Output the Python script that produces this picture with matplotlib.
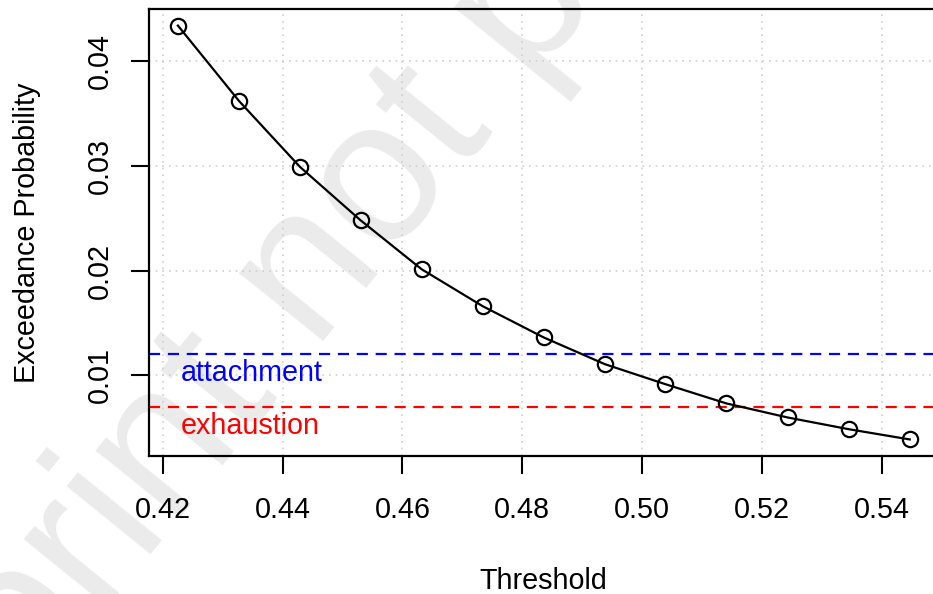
import matplotlib
matplotlib.use("Agg")
import matplotlib.pyplot as plt

plt.rcParams['font.family'] = ['Liberation Sans', 'DejaVu Sans']

threshold = [0.4225, 0.4327, 0.4429, 0.4530, 0.4632, 0.4734, 0.4836,
             0.4938, 0.5039, 0.5141, 0.5243, 0.5345, 0.5447]
exceed_prob = [0.04341, 0.03621, 0.02990, 0.02481, 0.02013, 0.01660, 0.01361,
               0.01106, 0.00915, 0.00731, 0.00597, 0.00485, 0.00387]
attachment = 0.012
exhaustion = 0.007
xticks = [0.42, 0.44, 0.46, 0.48, 0.50, 0.52, 0.54]
yticks = [0.01, 0.02, 0.03, 0.04]

W, H = 933, 594
fig = plt.figure(figsize=(W / 100, H / 100), dpi=100)

# axes placement in pixels
left_px, right_px, top_px, bottom_px = 148.6, 939, 9, 456
ax = fig.add_axes([left_px / W, 1 - bottom_px / H,
                   (right_px - left_px) / W, (bottom_px - top_px) / H])
ax.patch.set_visible(False)

# watermark
fig.text(-158.6 / W, 1 - 936.2 / H, "preprint not peer reviewed", color='#ebebeb',
         fontsize=147.6, rotation=51, rotation_mode='anchor',
         ha='left', va='baseline', zorder=-5)

fs = 20.7
xr = max(threshold) - min(threshold)
yr = max(exceed_prob) - min(exceed_prob)
ax.set_xlim(min(threshold) - 0.04 * xr, max(threshold) + 0.04 * xr)
ax.set_ylim(min(exceed_prob) - 0.04 * yr, max(exceed_prob) + 0.04 * yr)

for xv in xticks:
    ax.axvline(xv, color='#d0d0d0', lw=1.2, ls=(0, (1, 3)), zorder=1)
for yv in yticks:
    ax.axhline(yv, color='#d0d0d0', lw=1.2, ls=(0, (1, 3)), zorder=1)

ax.axhline(attachment, color='#0000ff', lw=1.6, ls=(0, (5, 3.5)), zorder=2)
ax.axhline(exhaustion, color='#ff0000', lw=1.6, ls=(0, (5, 3.5)), zorder=2)

ax.plot(threshold, exceed_prob, color='black', lw=1.6, marker='o',
        ms=11, mfc='none', mec='black', mew=1.6, zorder=3)

ax.annotate("attachment", xy=(0.423, attachment), xytext=(0, -3.5),
            textcoords='offset points', ha='left', va='top',
            color='#0000ff', fontsize=fs)
ax.annotate("exhaustion", xy=(0.423, exhaustion), xytext=(0, -3.5),
            textcoords='offset points', ha='left', va='top',
            color='#ff0000', fontsize=fs)

ax.set_xticks(xticks)
ax.set_xticklabels([f"{v:.2f}" for v in xticks])
ax.set_yticks(yticks)
ax.set_yticklabels([f"{v:.2f}" for v in yticks], rotation=90, va='center')

ax.tick_params(axis='x', direction='out', length=13, width=1.5, pad=16,
               labelsize=fs)
ax.tick_params(axis='y', direction='out', length=13, width=1.5, pad=12,
               labelsize=fs)

for s in ['left', 'top', 'bottom', 'right']:
    ax.spines[s].set_linewidth(1.6)

ax.set_xlabel("Threshold", fontsize=fs)
ax.set_ylabel("Exceedance Probability", fontsize=fs)
ax.xaxis.set_label_coords(0.5, -0.2483)
ax.yaxis.set_label_coords(-0.136, 0.5)

fig.savefig("out.png", dpi=100)
